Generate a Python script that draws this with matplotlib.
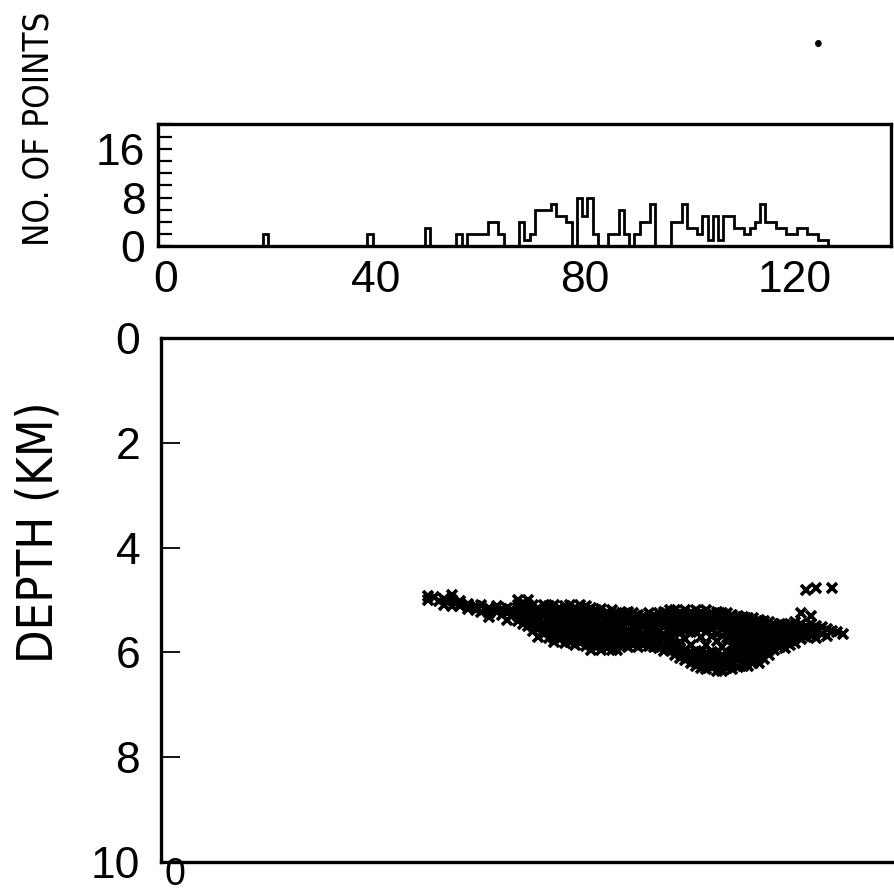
import numpy as np
import matplotlib
matplotlib.use('Agg')
import matplotlib.pyplot as plt
from matplotlib.ticker import FixedLocator, MultipleLocator
from matplotlib.transforms import ScaledTranslation

# top panel: histogram, left edge of each 1-unit bin and its count
bin_left = [20, 40, 51,
            57, 58, 59, 60, 61, 62, 63, 64, 65, 66, 67, 68, 69, 70, 71, 72,
            73, 74, 75, 76, 77, 78, 79, 80, 81, 82, 83, 84, 85, 86, 87, 88,
            89, 90, 91, 92, 93, 94, 95, 96, 97, 98, 99, 100, 101, 102, 103,
            104, 105, 106, 107, 108, 109, 110, 111, 112, 113, 114, 115, 116,
            117, 118, 119, 120, 121, 122, 123, 124, 125, 126, 127]
bin_count = [2, 2, 3,
             2, 0, 2, 2, 2, 2, 4, 4, 2, 0, 0, 0, 4, 1, 2, 6,
             6, 6, 7, 5, 5, 4, 0, 8, 5, 8, 2, 0, 0, 2, 2, 6,
             2, 0, 2, 4, 4, 7, 0, 0, 0, 4, 4, 7, 3, 3, 2,
             5, 1, 5, 1, 5, 5, 3, 3, 2, 3, 4, 7, 4,
             4, 3, 3, 2, 2, 3, 3, 2, 2, 1, 1]

# bottom panel: depth section, one column of points per distance value
col_x = [51, 52, 53, 54, 55.5, 57, 58.5, 60, 61, 62.5, 64, 65, 66, 67, 68,
         69, 70, 71, 72, 73, 74, 75, 76, 77, 78, 79, 80, 81, 82, 83, 84, 85,
         86, 87, 88, 89, 90, 91, 92, 93, 94, 95, 96, 97, 98, 99, 100, 101,
         102, 103, 104, 105, 106, 107, 108, 109, 110, 111, 112, 113, 114,
         115, 116, 117, 118, 119, 120, 121, 122, 123, 124, 125, 126, 127,
         128, 129, 130]
col_depth = [
    [4.92, 5.0], [4.95], [5.02], [4.98, 5.1], [4.9, 5.0, 5.12],
    [5.02, 5.12], [5.08, 5.18], [5.12, 5.2], [5.1, 5.22], [5.15, 5.25, 5.32],
    [5.12, 5.22], [5.18, 5.28], [5.15, 5.25, 5.38], [5.2, 5.3],
    [5.0, 5.1, 5.2, 5.3, 5.4],
    [5.05, 5.15, 5.3, 5.45],
    [5.0, 5.1, 5.2, 5.3, 5.4, 5.5],
    [5.1, 5.25, 5.35, 5.5, 5.6],
    [5.15, 5.25, 5.35, 5.45, 5.55, 5.7],
    [5.1, 5.2, 5.3, 5.45, 5.55, 5.65],
    [5.12, 5.22, 5.32, 5.42, 5.52, 5.62, 5.72],
    [5.1, 5.2, 5.3, 5.4, 5.5, 5.6, 5.72, 5.8],
    [5.15, 5.25, 5.35, 5.45, 5.55, 5.65, 5.75],
    [5.12, 5.22, 5.32, 5.5, 5.6, 5.7, 5.82],
    [5.1, 5.2, 5.3, 5.4, 5.5, 5.6, 5.7, 5.8],
    [5.15, 5.25, 5.35, 5.45, 5.55, 5.65, 5.75, 5.85],
    [5.1, 5.2, 5.3, 5.4, 5.5, 5.6, 5.72, 5.82],
    [5.12, 5.22, 5.32, 5.42, 5.55, 5.65, 5.75, 5.88],
    [5.15, 5.25, 5.35, 5.45, 5.55, 5.65, 5.75, 5.85, 5.95],
    [5.2, 5.3, 5.4, 5.5, 5.6, 5.7, 5.8, 5.9],
    [5.18, 5.28, 5.45, 5.55, 5.65, 5.75, 5.85, 5.95],
    [5.22, 5.32, 5.42, 5.52, 5.62, 5.72, 5.82, 5.92],
    [5.2, 5.3, 5.4, 5.55, 5.65, 5.75, 5.85, 5.95],
    [5.25, 5.35, 5.45, 5.55, 5.65, 5.75, 5.85, 5.95],
    [5.25, 5.35, 5.45, 5.55, 5.65, 5.75, 5.88],
    [5.22, 5.32, 5.42, 5.6, 5.7, 5.8, 5.9],
    [5.25, 5.35, 5.45, 5.55, 5.65, 5.75, 5.85],
    [5.28, 5.38, 5.48, 5.58, 5.68, 5.78, 5.9],
    [5.3, 5.4, 5.5, 5.65, 5.75, 5.85],
    [5.25, 5.35, 5.45, 5.55, 5.65, 5.75, 5.88],
    [5.28, 5.38, 5.48, 5.58, 5.7, 5.8, 5.9],
    [5.25, 5.35, 5.45, 5.6, 5.7, 5.82, 5.92],
    [5.22, 5.32, 5.42, 5.52, 5.65, 5.75, 5.88, 5.98],
    [5.2, 5.3, 5.4, 5.5, 5.62, 5.75, 5.85, 5.95],
    [5.2, 5.3, 5.4, 5.5, 5.6, 5.72, 5.85, 5.95, 6.05],
    [5.22, 5.32, 5.42, 5.52, 5.62, 5.8, 5.92, 6.02, 6.1],
    [5.2, 5.3, 5.4, 5.5, 5.6, 5.75, 5.95, 6.05, 6.15],
    [5.22, 5.32, 5.42, 5.52, 5.62, 5.85, 6.0, 6.1, 6.2],
    [5.2, 5.3, 5.4, 5.5, 5.62, 5.98, 6.08, 6.18, 6.25],
    [5.22, 5.32, 5.42, 5.55, 5.7, 6.0, 6.1, 6.2, 6.3],
    [5.2, 5.3, 5.4, 5.5, 5.62, 5.85, 6.02, 6.12, 6.22, 6.32],
    [5.25, 5.35, 5.45, 5.55, 5.68, 6.0, 6.1, 6.2, 6.3],
    [5.22, 5.32, 5.42, 5.52, 5.65, 5.78, 6.02, 6.12, 6.22, 6.35],
    [5.25, 5.35, 5.45, 5.55, 5.68, 5.9, 6.05, 6.15, 6.25, 6.35],
    [5.25, 5.35, 5.45, 5.6, 5.72, 6.0, 6.1, 6.2, 6.3],
    [5.28, 5.38, 5.5, 5.62, 5.75, 5.85, 6.0, 6.1, 6.2, 6.32],
    [5.3, 5.4, 5.5, 5.6, 5.72, 5.82, 5.95, 6.05, 6.15, 6.28],
    [5.32, 5.42, 5.52, 5.62, 5.72, 5.82, 5.92, 6.02, 6.12, 6.25],
    [5.35, 5.45, 5.55, 5.65, 5.75, 5.85, 5.95, 6.05, 6.15, 6.25],
    [5.35, 5.45, 5.55, 5.68, 5.78, 5.88, 5.98, 6.08, 6.2],
    [5.38, 5.48, 5.58, 5.68, 5.8, 5.9, 6.0, 6.1, 6.2],
    [5.4, 5.5, 5.6, 5.7, 5.8, 5.9, 6.0, 6.12],
    [5.42, 5.52, 5.62, 5.72, 5.82, 5.95, 6.05],
    [5.45, 5.55, 5.65, 5.75, 5.85, 5.95],
    [5.45, 5.55, 5.68, 5.78, 5.9],
    [5.48, 5.58, 5.68, 5.8, 5.92],
    [5.45, 5.55, 5.65, 5.75, 5.85],
    [5.42, 5.52, 5.62, 5.72, 5.82],
    [5.25, 5.45, 5.55, 5.65, 5.75],
    [4.8, 5.5, 5.6, 5.7],
    [5.3, 5.45, 5.58, 5.68],
    [4.77, 5.5, 5.62, 5.72],
    [5.52, 5.65],
    [5.55, 5.68],
    [4.78, 5.6],
    [5.62],
    [5.65],
]

hist_xticks = [0, 40, 80, 120]
hist_yticks = [0, 8, 16]
depth_ticks = [0, 2, 4, 6, 8, 10]

plt.rcParams['font.family'] = ['Liberation Sans', 'DejaVu Sans']
plt.rcParams['axes.linewidth'] = 2.4

fig = plt.figure(figsize=(8.95, 8.92), dpi=100)
ax1 = fig.add_axes([0.1765, 0.7237, 0.819, 0.1368])
ax2 = fig.add_axes([0.1799, 0.0336, 0.8201, 0.5875])

# histogram as an open step outline
counts = np.zeros(140)
counts[bin_left] = bin_count
ax1.stairs(counts, np.arange(141), color='black', lw=2.0, baseline=0)
ax1.set_xlim(0, 140)
ax1.set_ylim(0, 20)
ax1.set_xticks(hist_xticks)
ax1.yaxis.set_major_locator(FixedLocator(hist_yticks))
ax1.yaxis.set_minor_locator(MultipleLocator(2))
ax1.tick_params(axis='y', which='both', direction='in', length=10, width=1.6,
                pad=9, labelsize=32)
ax1.tick_params(axis='x', length=0, pad=10, labelsize=32)
shift = ScaledTranslation(0.08, 0, fig.dpi_scale_trans)
for lbl in ax1.get_xticklabels():
    lbl.set_transform(lbl.get_transform() + shift)

# depth section
xs, ds = [], []
for x, col in zip(col_x, col_depth):
    xs += [x] * len(col)
    ds += col
ax2.plot(xs, ds, 'x', color='black', ms=6.5, mew=2.6)
ax2.set_xlim(0, 140)
ax2.set_ylim(10, 0)
ax2.set_yticks(depth_ticks)
ax2.set_xticks([0])
ax2.tick_params(axis='y', direction='in', length=14, width=1.3, pad=15,
                labelsize=32)
ax2.tick_params(axis='x', length=0, pad=-2, labelsize=27)
for lbl in ax2.get_xticklabels():
    lbl.set_transform(lbl.get_transform()
                      + ScaledTranslation(0.14, 0.02, fig.dpi_scale_trans))
ax2.spines['right'].set_visible(False)

# narrow face for the long axis titles, if one is installed
narrow = ['DejaVu Sans Condensed', 'Liberation Sans Narrow', 'DejaVu Sans']
fig.text(0.043, 0.856, 'NO. OF POINTS', rotation=90, ha='center',
         va='center', fontsize=25, family=narrow, stretch='condensed')
fig.text(0.043, 0.403, 'DEPTH (KM)', rotation=90, ha='center', va='center',
         fontsize=35, family=narrow, stretch='condensed')
fig.text(0.914, 0.95, '•', ha='center', va='center', fontsize=18)

fig.savefig('out.png', dpi=100)
